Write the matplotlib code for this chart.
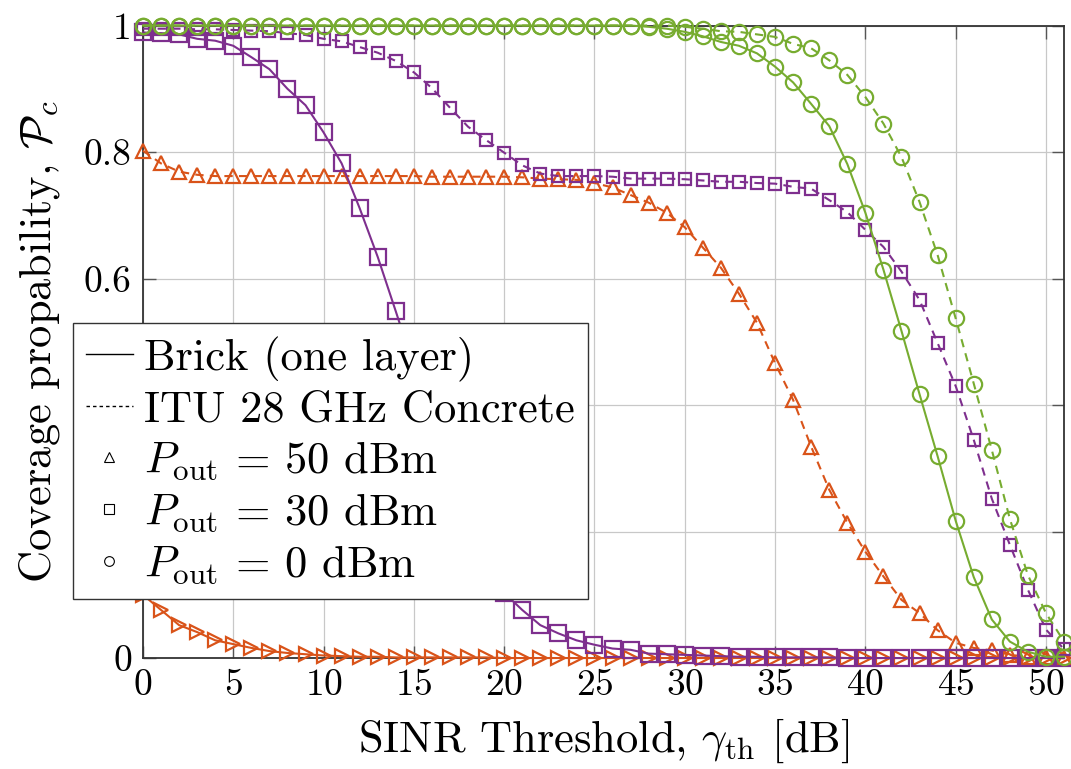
import numpy as np
import matplotlib
matplotlib.use("Agg")
import matplotlib.pyplot as plt
from matplotlib.lines import Line2D

plt.rcParams['font.family'] = 'serif'
plt.rcParams['font.serif'] = ['cmr10']
plt.rcParams['mathtext.fontset'] = 'cm'
plt.rcParams['axes.formatter.use_mathtext'] = True

# SINR threshold [dB]
sinr = np.arange(0, 52)

# Brick (one layer), P_out = 50 dBm
brick_50 = [0.100, 0.076, 0.052, 0.041, 0.028, 0.022, 0.016, 0.011, 0.008, 0.006,
            0.004, 0.003, 0.002, 0.002, 0.001, 0.001, 0.001, 0.001, 0.001, 0.001,
            0.000, 0.000, 0.000, 0.000, 0.000, 0.000, 0.000, 0.000, 0.000, 0.000,
            0.000, 0.000, 0.000, 0.000, 0.000, 0.000, 0.000, 0.000, 0.000, 0.000,
            0.000, 0.000, 0.000, 0.000, 0.000, 0.000, 0.000, 0.000, 0.000, 0.000,
            0.000, 0.000]
# ITU 28 GHz concrete, P_out = 50 dBm
concrete_50 = [0.802, 0.782, 0.769, 0.764, 0.762, 0.762, 0.762, 0.762, 0.762, 0.762,
               0.762, 0.762, 0.762, 0.762, 0.762, 0.762, 0.761, 0.761, 0.761, 0.761,
               0.761, 0.760, 0.758, 0.757, 0.756, 0.751, 0.744, 0.732, 0.720, 0.704,
               0.681, 0.649, 0.617, 0.576, 0.530, 0.466, 0.408, 0.334, 0.266, 0.214,
               0.168, 0.129, 0.092, 0.071, 0.044, 0.024, 0.016, 0.012, 0.005, 0.002,
               0.001, 0.000]
# Brick (one layer), P_out = 30 dBm
brick_30 = [0.989, 0.988, 0.986, 0.979, 0.976, 0.968, 0.950, 0.931, 0.900, 0.874,
            0.831, 0.782, 0.711, 0.634, 0.548, 0.460, 0.372, 0.288, 0.214, 0.152,
            0.103, 0.076, 0.052, 0.039, 0.028, 0.021, 0.015, 0.013, 0.007, 0.006,
            0.005, 0.004, 0.003, 0.002, 0.002, 0.001, 0.001, 0.001, 0.001, 0.000,
            0.000, 0.000, 0.000, 0.000, 0.000, 0.000, 0.000, 0.000, 0.000, 0.000,
            0.000, 0.000]
# ITU 28 GHz concrete, P_out = 30 dBm
concrete_30 = [0.995, 0.995, 0.995, 0.994, 0.994, 0.993, 0.992, 0.991, 0.988, 0.985,
               0.979, 0.975, 0.966, 0.957, 0.944, 0.926, 0.901, 0.870, 0.840, 0.819,
               0.799, 0.779, 0.766, 0.762, 0.762, 0.762, 0.761, 0.758, 0.758, 0.758,
               0.757, 0.755, 0.753, 0.753, 0.751, 0.750, 0.745, 0.742, 0.724, 0.705,
               0.677, 0.650, 0.611, 0.566, 0.498, 0.430, 0.345, 0.252, 0.179, 0.108,
               0.045, 0.014]
# Brick (one layer), P_out = 0 dBm
brick_0 = [1.000] * 28 + [0.998, 0.995, 0.990, 0.983, 0.974, 0.968, 0.956, 0.935,
                          0.910, 0.876, 0.841, 0.781, 0.704, 0.614, 0.517, 0.417,
                          0.319, 0.217, 0.128, 0.061, 0.026, 0.010, 0.002, 0.002]
# ITU 28 GHz concrete, P_out = 0 dBm
concrete_0 = [1.000] * 30 + [0.998, 0.995, 0.991, 0.990, 0.986, 0.982, 0.971, 0.964,
                             0.945, 0.922, 0.887, 0.845, 0.792, 0.721, 0.637, 0.537,
                             0.434, 0.329, 0.220, 0.131, 0.071, 0.026]

xticks = [0, 5, 10, 15, 20, 25, 30, 35, 40, 45, 50]
yticks = [0, 0.2, 0.4, 0.6, 0.8, 1]
ytick_labels = ['0', '0.2', '0.4', '0.6', '0.8', '1']

orange = '#D95319'
purple = '#7E2F8E'
green = '#77AC30'

fig = plt.figure(figsize=(10.71, 7.69), dpi=100)
ax = fig.add_axes([0.1335, 0.1443, 0.86, 0.8225])

series = [
    (brick_50, orange, '-', '>', 10),
    (concrete_50, orange, '--', '^', 10),
    (brick_30, purple, '-', 's', 11),
    (concrete_30, purple, '--', 's', 8),
    (brick_0, green, '-', 'o', 11),
    (concrete_0, green, '--', 'o', 11),
]
for vals, col, ls, mk, ms in series:
    line, = ax.plot(sinr, vals, color=col, linestyle=ls, linewidth=1.5,
                    marker=mk, markersize=ms, markerfacecolor='none',
                    markeredgecolor=col, markeredgewidth=1.6, clip_on=False, zorder=3)
    if ls == '--':
        line.set_dashes((4, 3))

ax.set_xlim(0, 51)
ax.set_ylim(0, 1)
ax.set_xticks(xticks)
ax.set_yticks(yticks)
ax.set_yticklabels(ytick_labels)
ax.grid(True, color='#c8c8c8', linewidth=0.9)
ax.set_axisbelow(True)
ax.tick_params(direction='in', length=9, width=1.0, color='#555555',
               top=True, right=True, labelsize=27, pad=8)
for sp in ax.spines.values():
    sp.set_color('#333333')
    sp.set_linewidth(1.3)

ax.set_xlabel(r'SINR Threshold, $\gamma_{\rm th}$ [dB]', fontsize=32, labelpad=10)
ax.set_ylabel(r'Coverage propability, $\mathcal{P}_c$', fontsize=32, labelpad=16)

handles = [
    Line2D([], [], color='black', linestyle='-', linewidth=1.0),
    Line2D([], [], color='black', linestyle=(0, (2.5, 2.2)), linewidth=1.0),
    Line2D([], [], color='black', linestyle='none', marker='^', markersize=7,
           markerfacecolor='none', markeredgewidth=0.8),
    Line2D([], [], color='black', linestyle='none', marker='s', markersize=7,
           markerfacecolor='none', markeredgewidth=0.8),
    Line2D([], [], color='black', linestyle='none', marker='o', markersize=7,
           markerfacecolor='none', markeredgewidth=0.8),
]
labels = ['Brick (one layer)', 'ITU 28 GHz Concrete',
          r'$P_{\rm out}$ = 50 dBm', r'$P_{\rm out}$ = 30 dBm', r'$P_{\rm out}$ = 0 dBm']
leg = fig.legend(handles, labels, loc='upper left', bbox_to_anchor=(0.068, 0.58),
                 fontsize=32, frameon=True, fancybox=False, framealpha=1,
                 edgecolor='#333333', handlelength=1.05, handletextpad=0.25,
                 borderpad=0.3, labelspacing=0.2, borderaxespad=0)
leg.get_frame().set_linewidth(1.0)
leg.set_zorder(10)

fig.savefig('out.png', dpi=100)
